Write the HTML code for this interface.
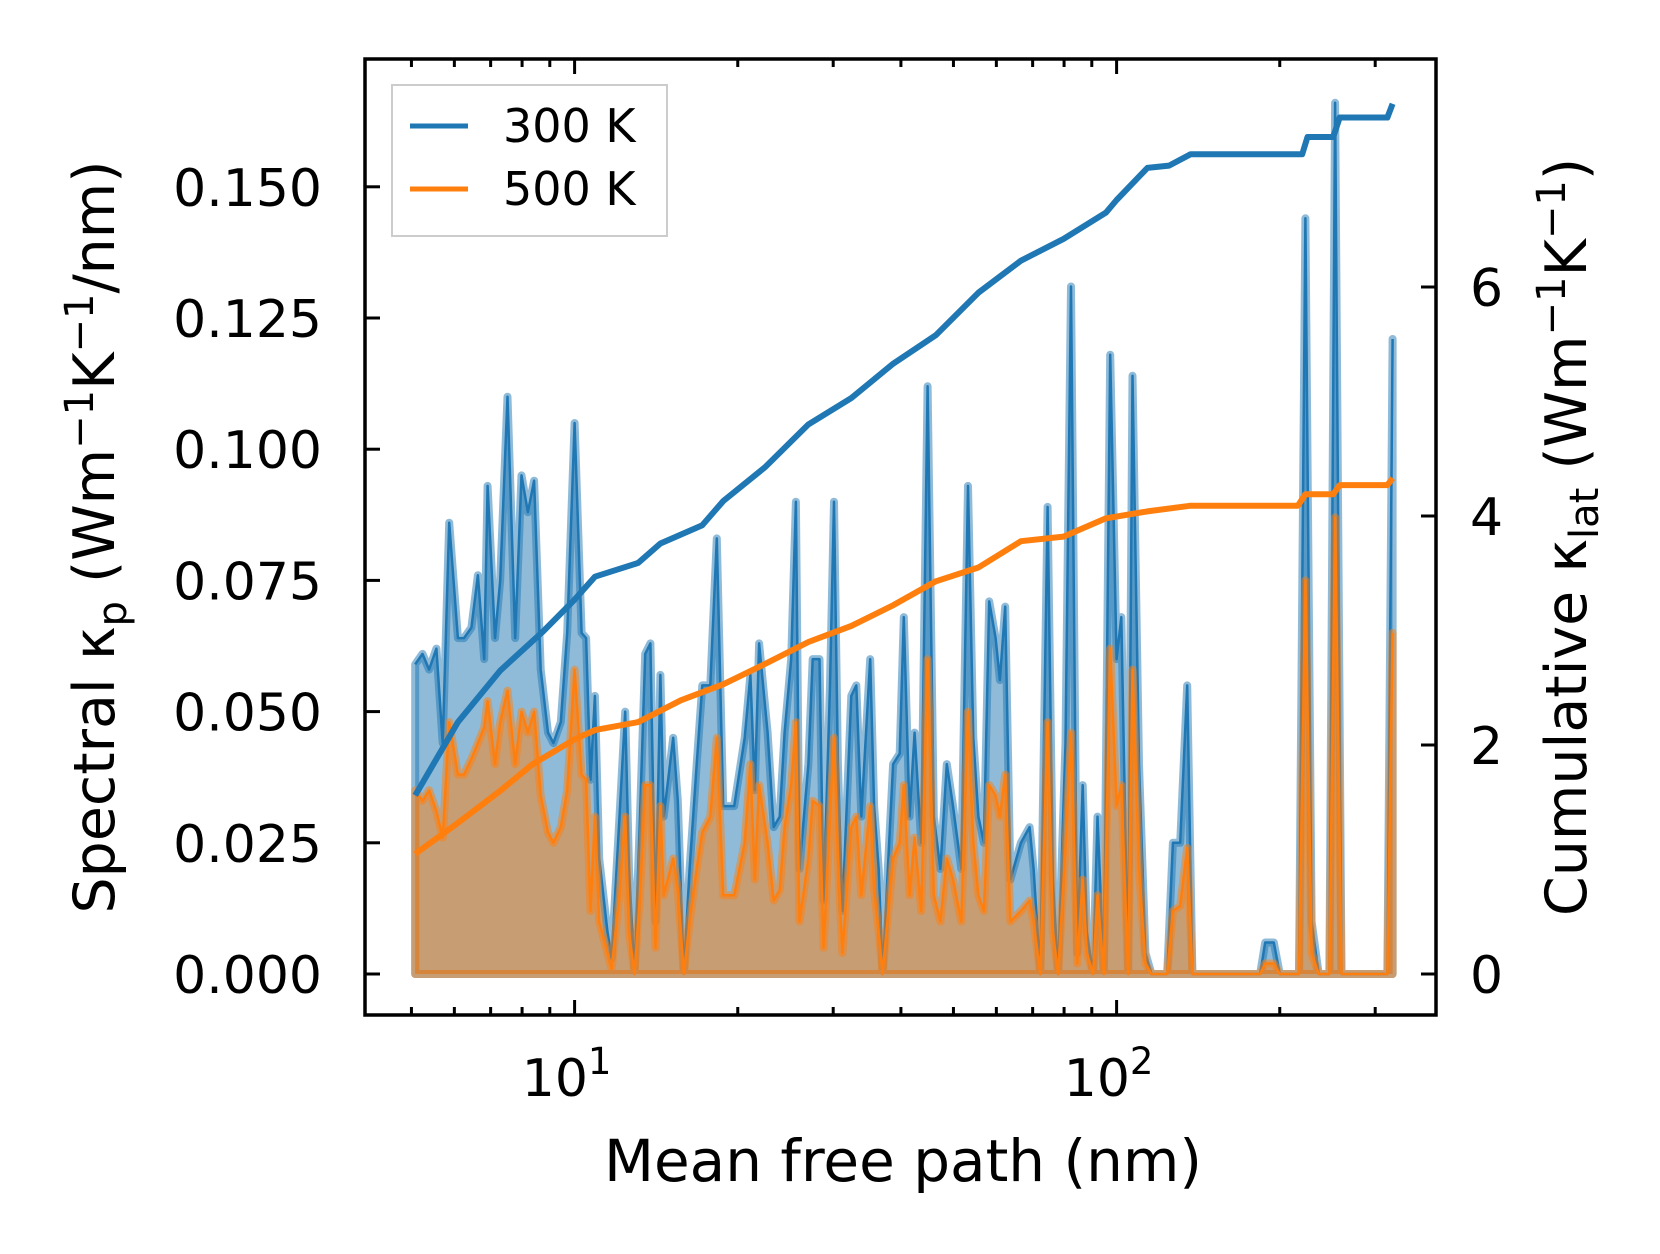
<!DOCTYPE html>
<html><head><meta charset="utf-8"><style>
html,body{margin:0;padding:0;background:#fff;}
svg{display:block;font-family:"DejaVu Sans","Liberation Sans",sans-serif;}
</style></head><body>
<svg id="chart" width="1660" height="1254" viewBox="0 0 1660 1254" xmlns="http://www.w3.org/2000/svg">
<rect width="1660" height="1254" fill="#fff"/>
<g id="marks"></g>
<g id="axes"></g>
</svg>
<script>
const mfp = [5.08,5.24,5.39,5.56,5.71,5.87,6.09,6.25,6.45,6.63,6.81,6.91,7.13,7.29,7.52,7.77,7.98,8.20,8.42,8.66,8.93,9.14,9.43,9.69,10.0,10.3,10.5,10.7,10.9,11.1,11.5,11.7,12.1,12.4,12.6,12.9,13.2,13.5,13.8,14.1,14.4,14.6,15.2,15.5,15.9,16.3,16.8,17.2,17.8,18.3,18.8,19.7,20.6,21.1,21.5,21.9,22.7,23.3,23.9,24.4,25.1,25.6,26.0,27.0,27.5,28.3,28.8,29.6,30.1,30.6,31.2,32.4,33.1,33.8,35.1,35.7,36.4,37.0,38.7,39.8,40.5,41.5,42.4,43.6,44.8,46.0,47.3,48.6,49.9,51.7,53.2,54.4,55.6,56.9,58.2,59.8,60.9,62.3,63.7,66.6,69.1,70.3,72.3,74.6,76.3,78.0,80.5,82.4,84.6,86.6,88.1,90.5,92.2,94.7,97.3,100,102,105,107,110,113,116,124,127,131,135,138,144,184,188,195,200,217,223,229,236,247,253,260,309,316,323];
const spec300 = [.059,.061,.058,.062,.044,.086,.064,.064,.066,.076,.060,.093,.064,.075,.110,.064,.095,.088,.094,.058,.046,.044,.048,.065,.105,.065,.064,.037,.053,.022,.008,.003,.030,.050,.020,.000,.030,.061,.063,.010,.057,.030,.045,.033,.000,.020,.040,.055,.055,.083,.032,.032,.045,.057,.035,.063,.046,.028,.030,.046,.060,.090,.020,.040,.060,.060,.014,.055,.090,.040,.012,.053,.055,.030,.060,.032,.020,.000,.040,.042,.068,.030,.046,.025,.112,.030,.020,.040,.032,.020,.093,.045,.030,.025,.071,.064,.056,.070,.018,.025,.028,.020,.000,.089,.018,.000,.044,.131,.004,.036,.008,.000,.030,.000,.118,.060,.068,.000,.114,.040,.004,.000,.000,.025,.025,.055,.000,.000,.000,.006,.006,.000,.000,.144,.010,.000,.000,.166,.000,.000,.000,.121];
const spec500 = [.035,.033,.035,.031,.026,.048,.038,.038,.041,.044,.047,.052,.040,.048,.054,.040,.050,.046,.050,.034,.027,.025,.028,.035,.058,.038,.037,.012,.030,.010,.004,.001,.015,.030,.008,.000,.015,.036,.036,.005,.032,.015,.022,.016,.000,.010,.020,.027,.030,.045,.015,.015,.025,.040,.018,.036,.025,.014,.016,.028,.036,.048,.010,.022,.033,.032,.005,.030,.045,.022,.004,.028,.030,.015,.032,.016,.008,.000,.022,.025,.036,.015,.026,.012,.060,.015,.010,.022,.018,.010,.050,.025,.015,.012,.036,.034,.030,.038,.010,.012,.014,.010,.000,.048,.008,.000,.024,.046,.002,.018,.004,.000,.015,.000,.062,.032,.036,.000,.058,.020,.002,.000,.000,.012,.013,.024,.000,.000,.000,.002,.002,.000,.000,.075,.004,.000,.000,.087,.000,.000,.000,.065];
const cumMfp300 = [5.08,6.09,7.29,8.74,10.0,10.9,13.1,14.4,17.2,18.8,22.5,27.0,32.4,38.7,46.4,55.6,66.6,79.8,95.6,100,114,125,137,197,216,220,225,251,258,316,323];
const cum300 = [1.56,2.20,2.65,2.99,3.27,3.47,3.59,3.76,3.92,4.13,4.43,4.80,5.03,5.33,5.58,5.95,6.23,6.42,6.65,6.76,7.04,7.06,7.16,7.16,7.16,7.16,7.31,7.31,7.48,7.48,7.60];
const cumMfp500 = [5.08,6.09,7.29,8.35,10.0,10.9,13.1,15.7,18.8,22.5,27.0,32.4,38.7,46.4,55.6,66.6,79.8,95.6,114,137,216,223,251,258,316,323];
const cum500 = [1.05,1.32,1.60,1.83,2.05,2.13,2.20,2.39,2.53,2.71,2.90,3.04,3.22,3.43,3.55,3.78,3.82,3.98,4.04,4.09,4.09,4.19,4.19,4.27,4.27,4.33];
const yTicksLeft = [0,0.025,0.05,0.075,0.1,0.125,0.15];
const yTickLabelsLeft = ["0.000","0.025","0.050","0.075","0.100","0.125","0.150"];
const yTicksRight = [0,2,4,6];
const xMajor = [1,2];

const L=365,R=1436,T=59,B=1015;
const xs = v => 574.6 + 542*(Math.log10(v)-1);
const yl = v => 974 - v*5248;
const yr = v => 974 - v*114.5;
const NS="http://www.w3.org/2000/svg";
const marks=document.getElementById('marks'), axes=document.getElementById('axes');
function mk(tag,attrs,parent){const e=document.createElementNS(NS,tag);for(const k in attrs)e.setAttribute(k,attrs[k]);parent.appendChild(e);return e;}

function spectral(vals,color,rgb,name){
  let pts=[];
  mfp.forEach((m,i)=>pts.push(xs(m).toFixed(1)+','+yl(vals[i]).toFixed(1)));
  const poly='M'+xs(mfp[0]).toFixed(1)+','+yl(0)+' L'+pts.join(' L')+' L'+xs(mfp[mfp.length-1]).toFixed(1)+','+yl(0)+' Z';
  const f=mk('path',{d:poly,fill:'rgba('+rgb+',0.5)',stroke:'rgba('+rgb+',0.5)','stroke-width':8,'stroke-linejoin':'round'},marks);
  
  
  const l=mk('polyline',{points:pts.join(' '),fill:'none',stroke:color,'stroke-width':2.5,'stroke-linejoin':'round'},marks);
  
  
}
spectral(spec300,'#1f77b4','31,119,180','spectral-300k');
spectral(spec500,'#ff7f0e','255,127,14','spectral-500k');

function cum(xv,yv,color,name){
  const pts=xv.map((m,i)=>xs(m).toFixed(1)+','+yr(yv[i]).toFixed(1)).join(' ');
  const l=mk('polyline',{points:pts,fill:'none',stroke:color,'stroke-width':6,'stroke-linejoin':'round'},marks);
  
  
}
cum(cumMfp300,cum300,'#1f77b4','cumulative-300k');
cum(cumMfp500,cum500,'#ff7f0e','cumulative-500k');

const fr=mk('rect',{x:L,y:T,width:R-L,height:B-T,fill:'none',stroke:'#000','stroke-width':3.5},axes);



for(let d=0; d<=2; d++){
  for(let k=1;k<10;k++){
    const v=k*Math.pow(10,d);
    const x=xs(v);
    if(x<L+2||x>R-2) continue;
    const len = k===1?15:8;
    const t1=mk('line',{x1:x,x2:x,y1:B,y2:B-len,stroke:'#000','stroke-width':3},axes);
    
    
    const t2=mk('line',{x1:x,x2:x,y1:T,y2:T+len,stroke:'#000','stroke-width':3},axes);
    
    
  }
}
xMajor.forEach(p=>{
  const x=xs(Math.pow(10,p));
  const t=mk('text',{x:x-8,y:1096,'font-size':52,'text-anchor':'middle'},axes);
  
  
  t.innerHTML='10<tspan dy="-22" font-size="37">'+p+'</tspan>';
});
yTicksLeft.forEach((v,i)=>{
  const y=yl(v);
  const tk=mk('line',{x1:L,x2:L+15,y1:y,y2:y,stroke:'#000','stroke-width':3},axes);
  
  
  const t=mk('text',{x:322,y:y+19,'font-size':52,'text-anchor':'end'},axes);
  
  
  t.textContent=yTickLabelsLeft[i];
});
yTicksRight.forEach(v=>{
  const y=yr(v);
  const tk=mk('line',{x1:R,x2:R-15,y1:y,y2:y,stroke:'#000','stroke-width':3},axes);
  
  
  const t=mk('text',{x:1470,y:y+19,'font-size':52,'text-anchor':'start'},axes);
  
  
  t.textContent=String(v);
});
</script>
<svg width="1660" height="1254" viewBox="0 0 1660 1254" style="position:absolute;left:0;top:0;font-family:'DejaVu Sans','Liberation Sans',sans-serif">
<text x="903" y="1181" font-size="58" text-anchor="middle">Mean free path (nm)</text>
<text transform="translate(114,537) rotate(-90)" font-size="57" text-anchor="middle">Spectral κ<tspan font-size="40" dy="12">p</tspan><tspan dy="-12"> (Wm</tspan><tspan font-size="40" dy="-21">−1</tspan><tspan dy="21">K</tspan><tspan font-size="40" dy="-21">−1</tspan><tspan dy="21">/nm)</tspan></text>
<text transform="translate(1586,537) rotate(-90)" font-size="57" text-anchor="middle">Cumulative κ<tspan font-size="40" dy="12">lat</tspan><tspan dy="-12"> (Wm</tspan><tspan font-size="40" dy="-21">−1</tspan><tspan dy="21">K</tspan><tspan font-size="40" dy="-21">−1</tspan><tspan dy="21">)</tspan></text>
<g>
<rect x="392" y="85" width="275" height="151" fill="#fff" fill-opacity="0.8" stroke="#ccc" stroke-width="2"/>
<line x1="410" x2="468" y1="126" y2="126" stroke="#1f77b4" stroke-width="5"/>
<text x="503" y="142" font-size="46">300 K</text>
<line x1="410" x2="468" y1="189" y2="189" stroke="#ff7f0e" stroke-width="5"/>
<text x="503" y="205" font-size="46">500 K</text>
</g>
</svg>
</body></html>
